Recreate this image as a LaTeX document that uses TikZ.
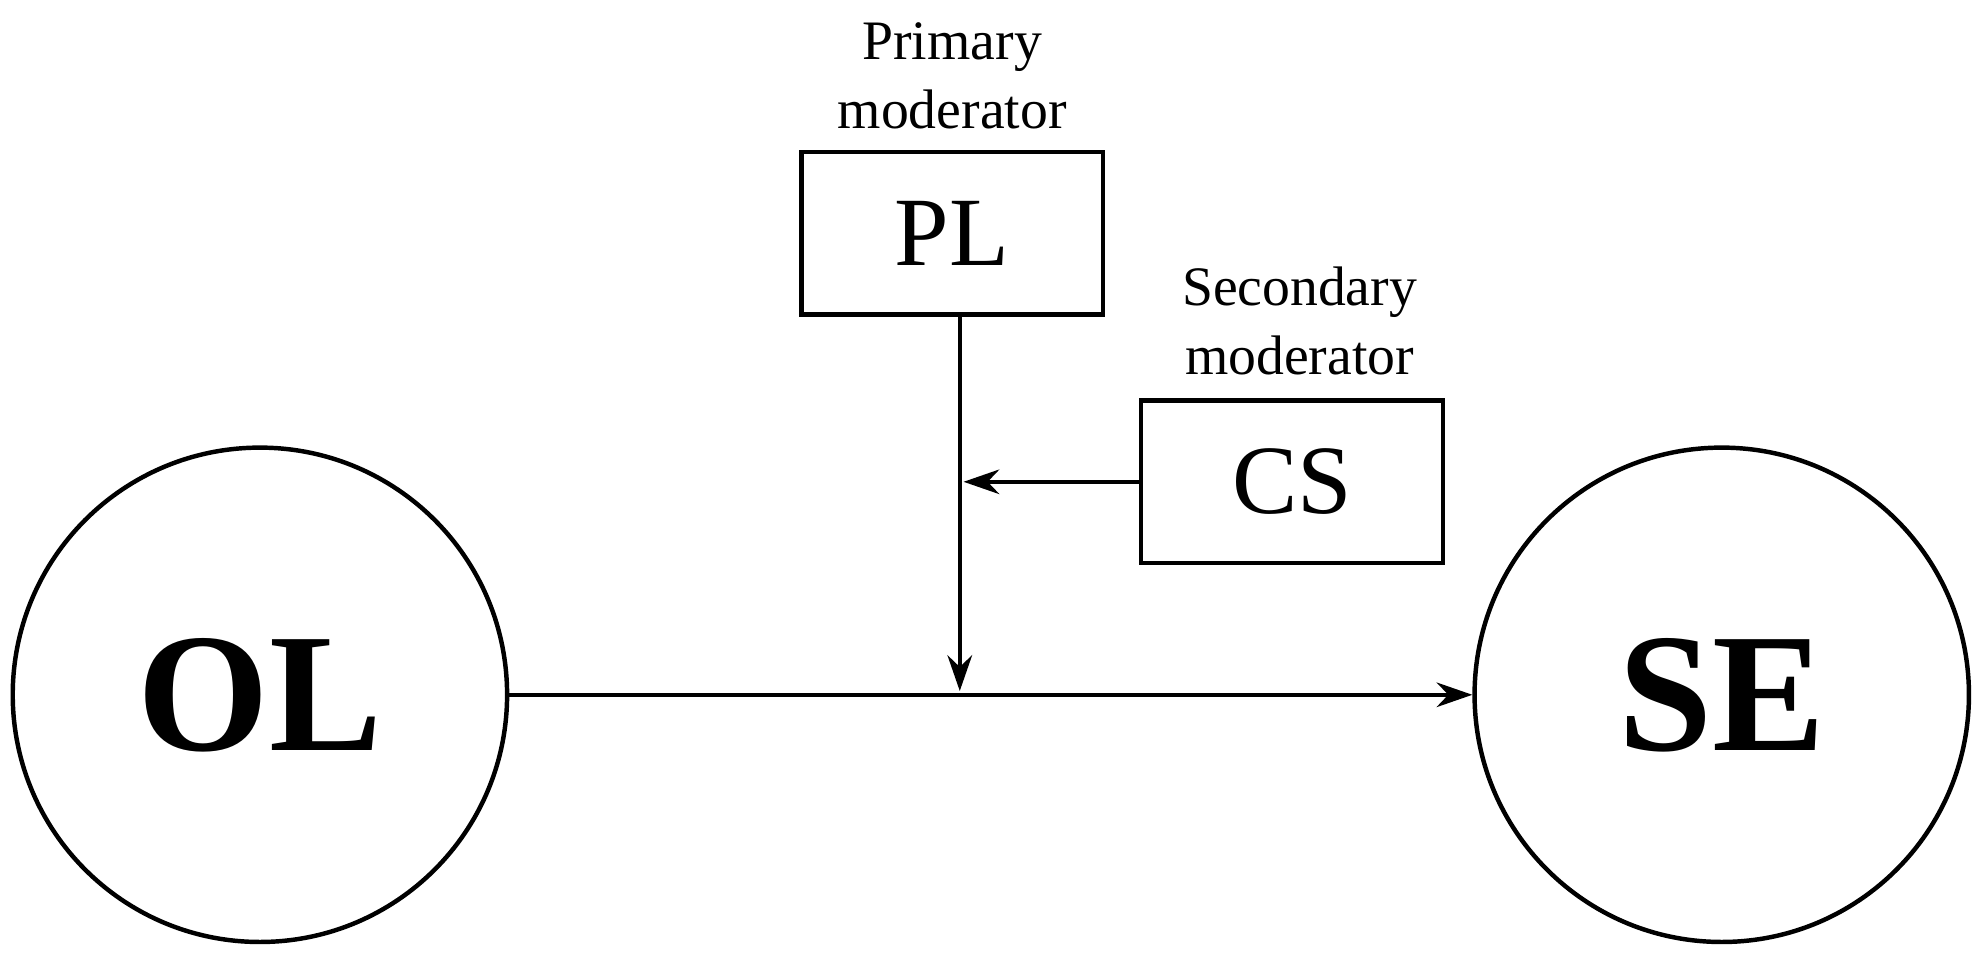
\documentclass[tikz,border=0pt]{standalone}
\usepackage{fontspec}
\setmainfont{Liberation Serif}
\usetikzlibrary{arrows.meta}
\begin{document}
\begin{tikzpicture}[x=0.02cm,y=-0.02cm,
  lw/.style={line width=2pt},
  circ/.style={lw,draw,circle,minimum size=7.8cm,inner sep=0pt,font=\fontsize{76}{76}\selectfont\bfseries},
  box/.style={lw,draw,minimum width=4.76cm,minimum height=2.56cm,inner sep=0pt,font=\fontsize{44}{44}\selectfont},
  lab/.style={align=center,font=\fontsize{25}{31}\selectfont},
  arr/.style={lw,-{Stealth[length=16pt,width=11pt]}}]
\useasboundingbox (0,0) rectangle (1568,754);
\node[circ] (OL) at (205,548) {OL};
\node[circ] (SE) at (1358,548) {SE};
\node[box] (PL) at (751,184) {PL};
\node[box] (CS) at (1019,380) {CS};
\node[lab,anchor=south] (pm) at (751,108) {Primary\\moderator};
\node[lab,anchor=south] (sm) at (1025,302) {Secondary\\moderator};
\coordinate (J) at (757,545);
\coordinate (K) at (760,380);
\draw[arr] (OL.east) -- (SE.west);
\draw[arr] (PL.south -| J) -- (J);
\draw[arr] (CS.west) -- (K);
\end{tikzpicture}
\end{document}
